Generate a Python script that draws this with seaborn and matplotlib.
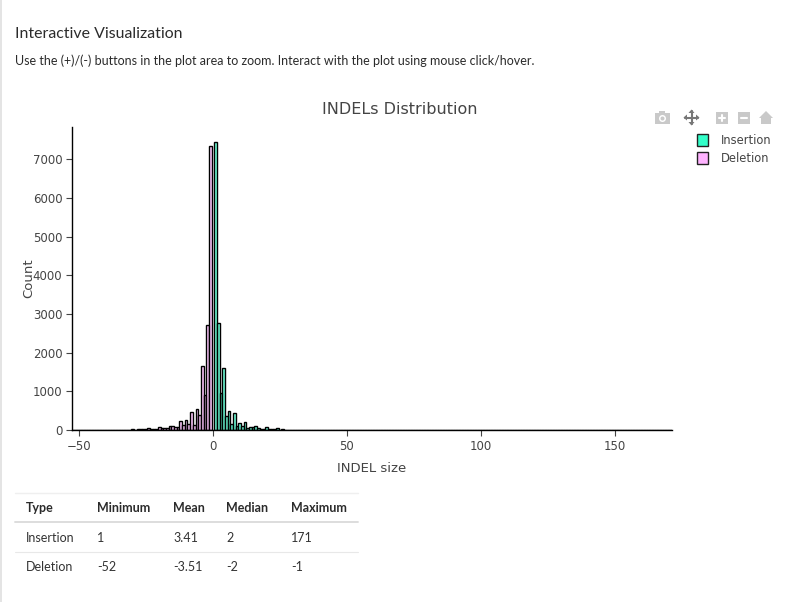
"""
INDELs distribution histogram with the page text and summary table around it
"""
import matplotlib
matplotlib.use('Agg')
import matplotlib.pyplot as plt
from matplotlib.patches import Circle, Polygon, Rectangle
import seaborn as sns

ins_sizes = [1, 2, 3, 4, 5, 6, 7, 8, 9, 10, 11, 12, 13, 14, 15, 16, 17, 18, 19, 20,
             21, 22, 23, 24, 25, 26, 27, 28, 29, 30, 32, 34, 36, 38, 40, 45, 50, 60, 75, 100, 171]
ins_counts = [7450, 2770, 950, 1590, 370, 490, 146, 430, 100, 190, 100, 215, 60, 70, 70, 100,
              45, 35, 30, 70, 25, 20, 15, 40, 12, 15, 10, 10, 12, 8, 10, 8, 6, 6, 5, 4, 3, 2, 2, 1, 1]

del_sizes = [-1, -2, -3, -4, -5, -6, -7, -8, -9, -10, -11, -12, -13, -14, -15, -16, -17, -18,
             -19, -20, -21, -22, -23, -24, -25, -26, -27, -28, -30, -32, -35, -38, -42, -47, -52]
del_counts = [7350, 2710, 900, 1660, 387, 530, 130, 470, 146, 258, 130, 230, 86, 80, 110, 105,
              60, 60, 55, 65, 25, 35, 25, 40, 25, 20, 30, 25, 14, 12, 10, 8, 5, 3, 1]

y_ticks = [0, 1000, 2000, 3000, 4000, 5000, 6000, 7000]
x_ticks = [-50, 0, 50, 100, 150]

table_header = ['Type', 'Minimum', 'Mean', 'Median', 'Maximum']
table_rows = [['Insertion', '1', '3.41', '2', '171'],
              ['Deletion', '-52', '-3.51', '-2', '-1']]

INS_COLOR = '#33ffc9'
DEL_COLOR = '#ffb3ff'
GREY = '#444444'
ICON = '#c9c9c9'

sns.set_style("ticks")
plt.rcParams['font.family'] = ['DejaVu Sans']
PAGE_FONT = ['Lato', 'DejaVu Sans']

fig = plt.figure(figsize=(8, 6.02), dpi=100, facecolor='white')
ax = fig.add_axes([72 / 800, 1 - 430 / 602, 600 / 800, 303 / 602])

# Histogram bars
for sizes, counts, color in [(ins_sizes, ins_counts, INS_COLOR), (del_sizes, del_counts, DEL_COLOR)]:
    sns.histplot(x=sizes, weights=counts, discrete=True, color=color, alpha=0.7,
                 edgecolor='black', linewidth=1.0, ax=ax)

ax.set_xlim(-52.6, 171.3)
ax.set_ylim(0, 7830)
ax.set_xticks(x_ticks)
ax.set_yticks(y_ticks)
ax.tick_params(axis='both', length=4, width=0.8, color=GREY, labelcolor=GREY, labelsize=8.5, pad=3)
ax.set_xlabel('INDEL size', fontsize=9.5, color=GREY, labelpad=6.5)
ax.set_ylabel('Count', fontsize=9.5, color=GREY, labelpad=-2)
sns.despine(ax=ax)
for side in ['left', 'bottom']:
    ax.spines[side].set_color('black')
    ax.spines[side].set_linewidth(1)

# Overlay in page pixels for the text, table, legend and toolbar
ui = fig.add_axes([0, 0, 1, 1], zorder=5)
ui.set_xlim(0, 800)
ui.set_ylim(602, 0)
ui.axis('off')
ui.patch.set_alpha(0)

ui.add_patch(Rectangle((0, 0), 1.5, 602, color='#e4e4e4', lw=0))
ui.text(15, 34, 'Interactive Visualization', fontsize=11.4, color='#2b2b2b', family=PAGE_FONT, va='center')
ui.text(15, 60.5, 'Use the (+)/(-) buttons in the plot area to zoom. Interact with the plot using mouse click/hover.',
        fontsize=9, color='#2b2b2b', family=PAGE_FONT, va='center')
ui.text(400, 110, 'INDELs Distribution', fontsize=11.5, color=GREY, ha='center', va='center')

# Legend
for y, label, color in [(140, 'Insertion', INS_COLOR), (158, 'Deletion', DEL_COLOR)]:
    ui.add_patch(Rectangle((697, y - 6), 11, 12, facecolor=color, edgecolor='#222222', lw=1))
    ui.text(721, y, label, fontsize=8.3, color=GREY, va='center')

# Toolbar icons
ui.add_patch(Rectangle((655, 113), 15, 11, color=ICON, lw=0))
ui.add_patch(Rectangle((659, 111), 6, 3, color=ICON, lw=0))
ui.add_patch(Circle((662.5, 118.5), 3.5, facecolor='white', edgecolor='none'))
ui.add_patch(Circle((662.5, 118.5), 2, facecolor=ICON, edgecolor='none'))
ui.plot([685, 698], [117.5, 117.5], color='#777777', lw=1.5)
ui.plot([691.5, 691.5], [111, 124], color='#777777', lw=1.5)
for pts in [[(691.5, 109.5), (688.5, 113), (694.5, 113)], [(691.5, 125.5), (688.5, 122), (694.5, 122)],
            [(683.5, 117.5), (687, 114.5), (687, 120.5)], [(699.5, 117.5), (696, 114.5), (696, 120.5)]]:
    ui.add_patch(Polygon(pts, color='#777777', lw=0))
for left in [716, 738]:
    ui.add_patch(Rectangle((left, 112), 12, 12, color=ICON, lw=0))
    ui.plot([left + 3, left + 9], [118, 118], color='white', lw=1.5)
ui.plot([722, 722], [115, 121], color='white', lw=1.5)
ui.add_patch(Polygon([(759, 118), (766, 111), (773, 118), (771, 118), (771, 124), (761, 124), (761, 118)],
                     color=ICON, lw=0))

# Summary table
col_x = [26, 97, 173, 226, 291]
for x, label in zip(col_x, table_header):
    ui.text(x, 508, label, fontsize=9, fontweight='bold', color='#2b2b2b', family=PAGE_FONT, va='center')
for y, row in zip([538, 567], table_rows):
    for x, label in zip(col_x, row):
        ui.text(x, y, label, fontsize=9, color='#333333', family=PAGE_FONT, va='center')
ui.plot([15, 358], [492.5, 492.5], color='#efefef', lw=1)
ui.plot([15, 358], [522, 522], color='#dddddd', lw=1.4)
ui.plot([15, 358], [551.5, 551.5], color='#e8e8e8', lw=0.8)

fig.savefig('out.png', dpi=100)
plt.close(fig)
